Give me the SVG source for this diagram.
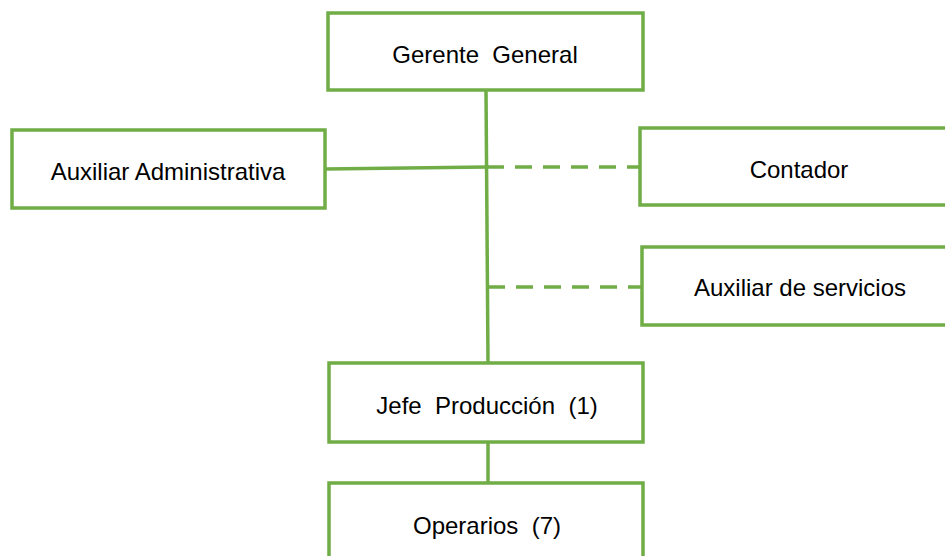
<svg xmlns="http://www.w3.org/2000/svg" width="945" height="556" viewBox="0 0 945 556">
<style>
.box{fill:#fff;stroke:#70AD47;stroke-width:3.5}
.ln{stroke:#70AD47;stroke-width:3.5;fill:none}
.dash{stroke-dasharray:17 11}
text{font-family:"Liberation Sans",Arial,sans-serif;font-size:24px;fill:#000;text-anchor:middle}
</style>
<rect width="945" height="556" fill="#fff"/>
<g id="connectors">
<line class="ln" x1="486" y1="90" x2="488" y2="363"/>
<line class="ln" x1="325" y1="169" x2="487" y2="167"/>
<line class="ln dash" x1="487" y1="167" x2="640" y2="167"/>
<line class="ln dash" x1="488" y1="287" x2="642" y2="287"/>
<line class="ln" x1="488" y1="442" x2="488" y2="483"/>
</g>
<g id="gerente">
<rect class="box" x="328" y="13" width="315" height="77"/>
<text x="485" y="63" xml:space="preserve">Gerente  General</text>
</g>
<g id="auxadmin">
<rect class="box" x="12" y="130" width="313" height="78"/>
<text x="168" y="180">Auxiliar Administrativa</text>
</g>
<g id="contador">
<rect class="box" x="640" y="128" width="320" height="77"/>
<text x="799" y="178">Contador</text>
</g>
<g id="auxserv">
<rect class="box" x="642" y="247" width="320" height="78"/>
<text x="800" y="296">Auxiliar de servicios</text>
</g>
<g id="jefe">
<rect class="box" x="329" y="363" width="314" height="79"/>
<text x="487" y="414" xml:space="preserve">Jefe  Producción  (1)</text>
</g>
<g id="operarios">
<rect class="box" x="329" y="483" width="314" height="90"/>
<text x="487" y="534" xml:space="preserve">Operarios  (7)</text>
</g>
</svg>
